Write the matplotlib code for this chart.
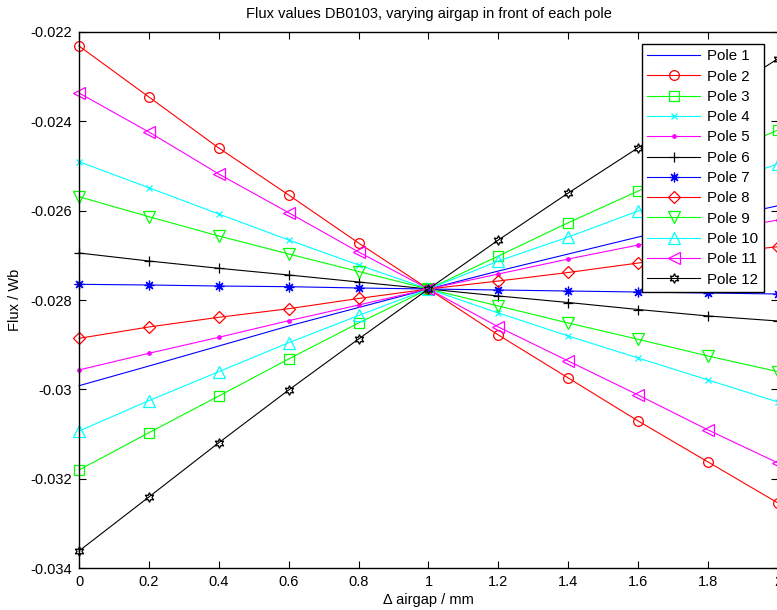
import matplotlib
matplotlib.use("Agg")
import matplotlib.pyplot as plt
from matplotlib.ticker import FixedLocator, FixedFormatter

plt.rcParams["font.family"] = ["Liberation Sans", "DejaVu Sans"]

# Data
airgap = [0.0, 0.2, 0.4, 0.6, 0.8, 1.0, 1.2, 1.4, 1.6, 1.8, 2.0]

pole_1 = [-0.029919, -0.029478, -0.029030, -0.028582, -0.028168, -0.027754,
          -0.027351, -0.026970, -0.026590, -0.026231, -0.025889]
pole_2 = [-0.022313, -0.023455, -0.024597, -0.025649, -0.026724, -0.027754,
          -0.028784, -0.029746, -0.030709, -0.031627, -0.032545]
pole_3 = [-0.031806, -0.030971, -0.030149, -0.029321, -0.028515, -0.027754,
          -0.027015, -0.026269, -0.025560, -0.024866, -0.024194]
pole_4 = [-0.024904, -0.025486, -0.026075, -0.026657, -0.027216, -0.027754,
          -0.028291, -0.028806, -0.029299, -0.029791, -0.030284]
pole_5 = [-0.029567, -0.029193, -0.028835, -0.028463, -0.028112, -0.027754,
          -0.027418, -0.027082, -0.026769, -0.026478, -0.026209]
pole_6 = [-0.026948, -0.027127, -0.027290, -0.027440, -0.027597, -0.027754,
          -0.027910, -0.028056, -0.028213, -0.028358, -0.028470]
pole_7 = [-0.027649, -0.027664, -0.027687, -0.027702, -0.027731, -0.027754,
          -0.027776, -0.027799, -0.027821, -0.027843, -0.027866]
pole_8 = [-0.028858, -0.028604, -0.028387, -0.028195, -0.027966, -0.027754,
          -0.027575, -0.027384, -0.027172, -0.026970, -0.026807]
pole_9 = [-0.025687, -0.026135, -0.026567, -0.026970, -0.027362, -0.027754,
          -0.028134, -0.028515, -0.028880, -0.029254, -0.029605]
pole_10 = [-0.030933, -0.030254, -0.029605, -0.028956, -0.028347, -0.027754,
           -0.027127, -0.026590, -0.026007, -0.025470, -0.024955]
pole_11 = [-0.023366, -0.024239, -0.025179, -0.026046, -0.026925, -0.027754,
           -0.028604, -0.029366, -0.030127, -0.030910, -0.031649]
pole_12 = [-0.033619, -0.032410, -0.031195, -0.030015, -0.028873, -0.027754,
           -0.026657, -0.025604, -0.024590, -0.023590, -0.022598]

series = [pole_1, pole_2, pole_3, pole_4, pole_5, pole_6,
          pole_7, pole_8, pole_9, pole_10, pole_11, pole_12]
labels = [f"Pole {i}" for i in range(1, 13)]

x_ticks = [0.0, 0.2, 0.4, 0.6, 0.8, 1.0, 1.2, 1.4, 1.6, 1.8, 2.0]
x_tick_labels = ["0", "0.2", "0.4", "0.6", "0.8", "1", "1.2", "1.4", "1.6", "1.8", "2"]
y_ticks = [-0.034, -0.032, -0.030, -0.028, -0.026, -0.024, -0.022]
y_tick_labels = ["-0.034", "-0.032", "-0.03", "-0.028", "-0.026", "-0.024", "-0.022"]

# MATLAB-like colour/marker cycle
colors = ["#0000ff", "#ff0000", "#00ff00", "#00ffff", "#ff00ff", "#000000"] * 2
markers = [None, "o", "s", "x", ".", "+", (8, 2, 0), "D", "v", "^", "<", (6, 1, 0)]
sizes = [0, 7, 7.5, 4.5, 5, 7, 7, 6.5, 8, 8, 8, 7]

fig = plt.figure(figsize=(7.77, 6.10), dpi=100)
ax = fig.add_axes([79 / 777, 42 / 610, 699 / 777, 536 / 610])

for ys, lab, c, m, ms in zip(series, labels, colors, markers, sizes):
    ax.plot(airgap, ys, color=c, lw=0.8, marker=m, markersize=ms,
            markerfacecolor="none" if m != "." else c,
            markeredgecolor=c, markeredgewidth=0.9, label=lab, clip_on=False)

ax.set_xlim(0, 2)
ax.set_ylim(-0.034, -0.022)
ax.xaxis.set_major_locator(FixedLocator(x_ticks))
ax.xaxis.set_major_formatter(FixedFormatter(x_tick_labels))
ax.yaxis.set_major_locator(FixedLocator(y_ticks))
ax.yaxis.set_major_formatter(FixedFormatter(y_tick_labels))
ax.tick_params(direction="in", top=True, right=True, length=5, width=0.8,
               labelsize=10.5, pad=5)
for sp in ax.spines.values():
    sp.set_linewidth(1.0)

ax.set_title("Flux values DB0103, varying airgap in front of each pole",
             fontsize=10.5, pad=10)
ax.set_xlabel("\u0394 airgap / mm", fontsize=10.5, labelpad=3)
ax.set_ylabel("Flux / Wb", fontsize=10.5, labelpad=6)

leg = ax.legend(loc="upper left", bbox_to_anchor=(642 / 777, 566 / 610),
                bbox_transform=fig.transFigure, borderaxespad=0,
                fontsize=10.8, handlelength=3.5, handletextpad=0.5,
                labelspacing=0.42, borderpad=0.35, fancybox=False,
                framealpha=1, edgecolor="black")
leg.get_frame().set_linewidth(1.0)
leg.set_zorder(5)

fig.savefig("out.png", dpi=100)
